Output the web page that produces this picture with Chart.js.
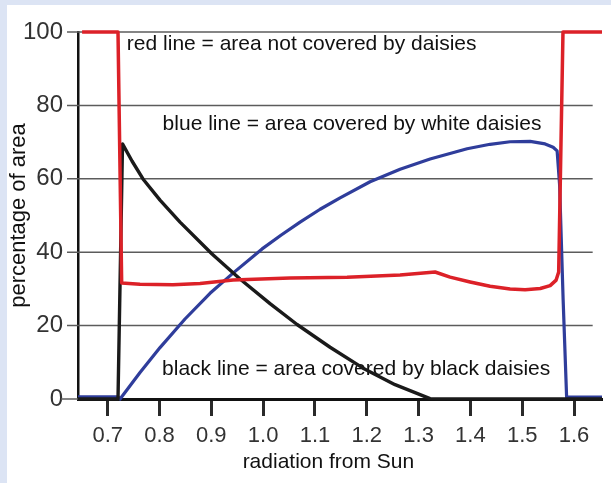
<!DOCTYPE html>
<html><head><meta charset="utf-8">
<script src="https://cdn.jsdelivr.net/npm/chart.js@4/dist/chart.umd.min.js"></script>
<style>html,body{margin:0;padding:0;background:#dce4f4;}canvas{display:block;}</style>
</head><body>
<canvas id="c" width="611" height="483"></canvas>
<script>
// ---- data ----
const redX   = [0.6506, 0.7199, 0.727, 0.7624, 0.826, 0.8782, 0.9419, 1.052, 1.162, 1.2643, 1.3318, 1.3608, 1.3994, 1.438, 1.4766, 1.5056, 1.5349, 1.5539, 1.5655, 1.5704, 1.5787, 1.654];
const redY   = [100, 100, 31.6, 31.3, 31.1, 31.5, 32.4, 33.0, 33.2, 33.8, 34.6, 33.2, 31.9, 30.7, 30.0, 29.8, 30.1, 30.9, 32.4, 34.6, 100, 100];
const blueX  = [0.6427, 0.7199, 0.7239, 0.7624, 0.801, 0.8492, 0.8975, 0.9419, 0.998, 1.035, 1.0713, 1.11, 1.1485, 1.2064, 1.2643, 1.3222, 1.3937, 1.438, 1.4766, 1.5153, 1.5442, 1.5597, 1.5674, 1.5722, 1.579, 1.5857, 1.654];
const blueY  = [0.6, 0.6, 0, 7.2, 14.0, 21.8, 28.8, 34.3, 40.9, 44.7, 48.2, 51.7, 54.8, 59.2, 62.6, 65.4, 68.2, 69.4, 70.1, 70.2, 69.5, 68.6, 67.6, 58.3, 27, 0.5, 0.5];
const blackX = [0.6427, 0.7199, 0.7286, 0.7469, 0.7681, 0.801, 0.8396, 0.9014, 0.9554, 1.0133, 1.0655, 1.1292, 1.1929, 1.2546, 1.3222, 1.654];
const blackY = [0, 0, 69.5, 64.85, 59.95, 54.2, 48.2, 39.5, 32.7, 26.0, 20.3, 14.1, 8.4, 3.9, 0.1, 0];
const xTickValues = [0.7, 0.8, 0.9, 1.0, 1.1, 1.2, 1.3, 1.4, 1.5, 1.6];
const xTickLabels = ['0.7', '0.8', '0.9', '1.0', '1.1', '1.2', '1.3', '1.4', '1.5', '1.6'];
const yTickValues = [0, 20, 40, 60, 80, 100];
const yTickLabels = ['0', '20', '40', '60', '80', '100'];
const noteTexts = ['red line = area not covered by daisies', 'blue line = area covered by white daisies', 'black line = area covered by black daisies'];
const xTitle = 'radiation from Sun';
const yTitle = 'percentage of area';

const toPts = (xs, ys) => xs.map((x, i) => ({x: x, y: ys[i]}));
const FONT = '"Liberation Sans", Arial, Helvetica, sans-serif';

const decor = {
  id: 'decor',
  beforeDraw(chart) {
    const c = chart.ctx;
    c.save();
    c.fillStyle = '#dce4f4';
    c.fillRect(0, 0, chart.width, chart.height);
    c.fillStyle = '#ffffff';
    c.fillRect(7, 5, chart.width - 7, chart.height - 5);
    c.restore();
  },
  beforeDatasetsDraw(chart) {
    const c = chart.ctx, xs = chart.scales.x, ys = chart.scales.y;
    c.save();
    c.strokeStyle = '#5c5c5c';
    c.lineWidth = 1.5;
    const xEnd = xs.getPixelForValue(1.636);
    yTickValues.forEach(v => {
      const py = ys.getPixelForValue(v);
      c.beginPath();
      if (v === 0) { c.moveTo(ys.right - 17, py); c.lineTo(ys.right, py); }
      else { c.moveTo(ys.right - 11, py); c.lineTo(xEnd, py); }
      c.stroke();
    });
    c.fillStyle = '#111';
    c.font = '21px ' + FONT;
    c.textBaseline = 'alphabetic';
    c.textAlign = 'left';
    const anchors = [[0.737, 95.1], [0.806, 73.3], [0.805, 6.5]];
    noteTexts.forEach((t, i) => {
      c.fillText(t, xs.getPixelForValue(anchors[i][0]), ys.getPixelForValue(anchors[i][1]));
    });
    c.textAlign = 'center';
    c.fillText(xTitle, xs.getPixelForValue(1.126), xs.top + 69);
    c.restore();
  }
};

new Chart(document.getElementById('c'), {
  type: 'scatter',
  data: {
    datasets: [
      {label: 'red', data: toPts(redX, redY), borderColor: '#dc2128', borderWidth: 3.5},
      {label: 'black', data: toPts(blackX, blackY), borderColor: '#1a1a1a', borderWidth: 3.4},
      {label: 'blue', data: toPts(blueX, blueY), borderColor: '#2f3d9b', borderWidth: 3.2}
    ].map(d => Object.assign(d, {showLine: true, pointRadius: 0, pointHoverRadius: 0, fill: false, tension: 0, clip: false, borderJoinStyle: 'round', borderCapStyle: 'butt'}))
  },
  options: {
    responsive: false,
    devicePixelRatio: 1,
    animation: false,
    events: [],
    layout: {padding: {top: 32, right: 9, bottom: 0, left: 0}},
    plugins: {legend: {display: false}, tooltip: {enabled: false}},
    scales: {
      x: {
        type: 'linear', min: 0.6427, max: 1.654,
        afterBuildTicks: s => { s.ticks = xTickValues.map(v => ({value: v})); },
        afterFit: s => { s.height = 84; },
        ticks: {autoSkip: false, maxRotation: 0, padding: 7, color: '#333', font: {family: FONT, size: 22},
                callback: (v, i) => xTickLabels[i]},
        grid: {display: true, drawOnChartArea: false, drawTicks: true, tickLength: 17, tickWidth: 3, tickColor: '#2a2a2a'},
        border: {display: true, color: '#111', width: 3}
      },
      y: {
        min: 0, max: 100,
        afterBuildTicks: s => { s.ticks = yTickValues.map(v => ({value: v})); },
        afterFit: s => { s.width = 78; },
        ticks: {padding: 15, color: '#333', font: {family: FONT, size: 24},
                callback: (v, i) => yTickLabels[i]},
        grid: {display: false, drawTicks: false},
        border: {display: true, color: '#111', width: 2.5},
        title: {display: true, text: yTitle, color: '#111', font: {family: FONT, size: 22}, padding: {top: 6, bottom: 0}}
      }
    }
  },
  plugins: [decor]
});
</script>
</body></html>
